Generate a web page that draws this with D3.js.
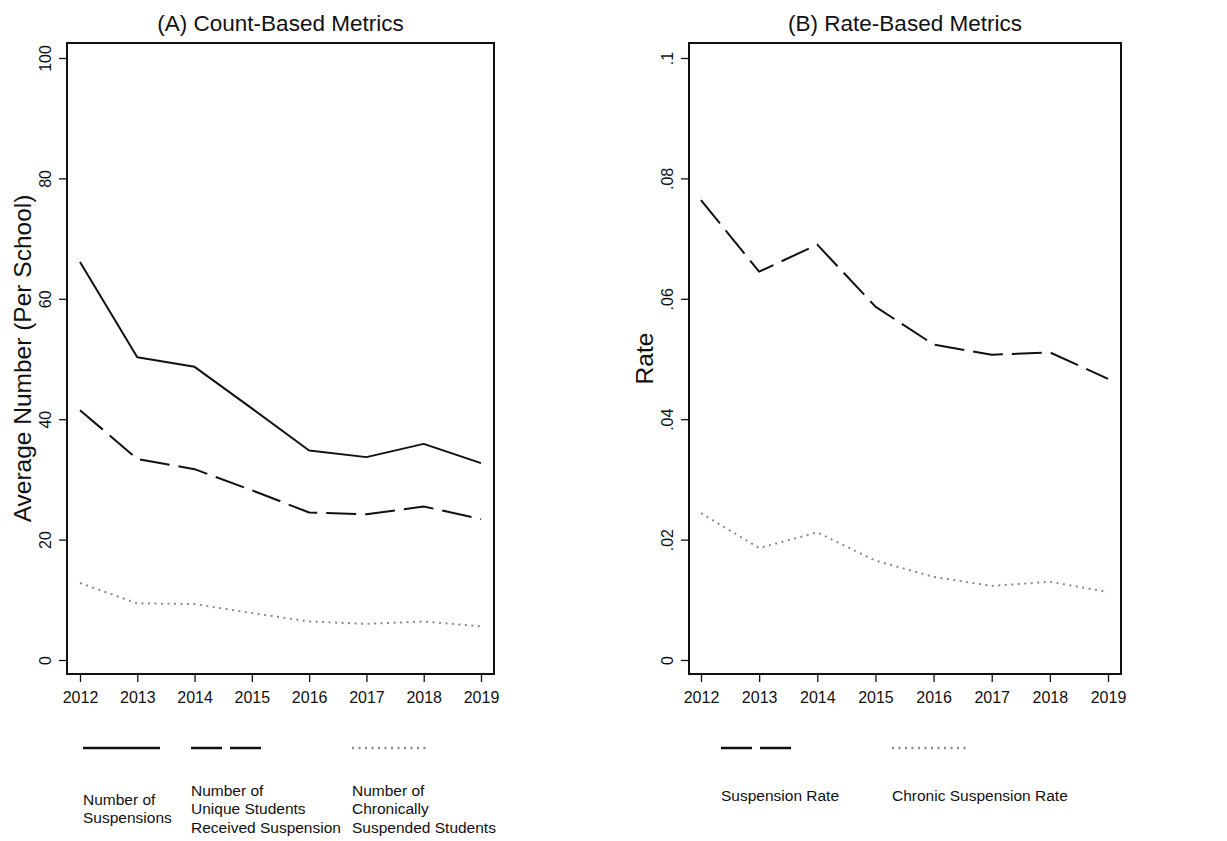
<!DOCTYPE html>
<html>
<head>
<meta charset="utf-8">
<script src="https://cdn.jsdelivr.net/npm/d3@7"></script>
<style>
  html, body { margin: 0; padding: 0; background: #fff; }
  svg { display: block; font-family: "Liberation Sans", Arial, Helvetica, sans-serif; }
</style>
</head>
<body>
<svg id="chart" width="1227" height="841"></svg>
<script>
// Years on the x axis (shared by both panels)
const years = [2012, 2013, 2014, 2015, 2016, 2017, 2018, 2019];

// Panel A: average counts per school
const suspensions       = [66.1, 50.3, 48.7, 41.8, 34.8, 33.7, 35.9, 32.7];
const uniqueStudents    = [41.5, 33.4, 31.7, 28.2, 24.5, 24.2, 25.5, 23.4];
const chronicStudents   = [12.8, 9.4, 9.3, 7.8, 6.4, 6.0, 6.4, 5.6];
const countTicks        = [0, 20, 40, 60, 80, 100];

// Panel B: rates
const suspensionRate    = [0.0764, 0.0645, 0.0690, 0.0587, 0.0524, 0.0507, 0.0511, 0.0467];
const chronicRate       = [0.0244, 0.0186, 0.0212, 0.0165, 0.0138, 0.0123, 0.0130, 0.0113];
const rateTicks         = [0, 0.02, 0.04, 0.06, 0.08, 0.1];
const rateTickLabels    = ["0", ".02", ".04", ".06", ".08", ".1"];

const svg = d3.select("#chart");

// line styles
const styles = {
  solid:  { stroke: "#111", width: 2, dash: null },
  dashed: { stroke: "#111", width: 2, dash: "30,9" },
  dotted: { stroke: "#8a8a8a", width: 2, dash: "2,4.5" }
};

function panel(opts) {
  const g = svg.append("g");
  const x = d3.scaleLinear().domain([2012, 2019]).range([opts.x0, opts.x1]);
  const y = d3.scaleLinear().domain([opts.ticks[0], opts.ticks[opts.ticks.length - 1]])
    .range([660, 58]);

  // title
  g.append("text")
    .attr("x", (opts.left + opts.right) / 2).attr("y", 31)
    .attr("text-anchor", "middle").attr("font-size", 22.5).attr("fill", "#111")
    .text(opts.title);

  // y axis
  const yAxis = d3.axisLeft(y).tickValues(opts.ticks).tickSize(8).tickSizeOuter(0)
    .tickFormat((d, i) => opts.tickLabels[i]);
  const ya = g.append("g").attr("transform", `translate(${opts.left},0)`).call(yAxis);
  ya.select(".domain").remove();
  ya.selectAll(".tick line").attr("stroke", "#111").attr("stroke-width", 1.3);
  ya.selectAll(".tick text")
    .attr("transform", "rotate(-90)")
    .attr("x", 0).attr("y", -16).attr("dy", 0)
    .attr("text-anchor", "middle")
    .attr("font-size", 16).attr("fill", "#111");

  // x axis
  const xAxis = d3.axisBottom(x).tickValues(years).tickSize(8).tickSizeOuter(0)
    .tickFormat(d3.format("d"));
  const xa = g.append("g").attr("transform", "translate(0,674)").call(xAxis);
  xa.select(".domain").remove();
  xa.selectAll(".tick line").attr("stroke", "#111").attr("stroke-width", 1.3);
  xa.selectAll(".tick text")
    .attr("y", 29).attr("dy", 0)
    .attr("font-size", 16).attr("fill", "#111");

  // y axis title
  g.append("text")
    .attr("transform", `translate(${opts.ytitleX},${(43 + 674) / 2}) rotate(-90)`)
    .attr("text-anchor", "middle").attr("font-size", 24.5).attr("fill", "#111")
    .text(opts.ytitle);

  // plot frame
  g.append("rect")
    .attr("x", opts.left).attr("y", 43)
    .attr("width", opts.right - opts.left).attr("height", 674 - 43)
    .attr("fill", "none").attr("stroke", "#111").attr("stroke-width", 2);

  // series
  const line = d3.line().x((d, i) => x(years[i])).y(d => y(d));
  opts.series.forEach(s => {
    const st = styles[s.style];
    g.append("path")
      .datum(s.values)
      .attr("d", line)
      .attr("fill", "none")
      .attr("stroke", st.stroke)
      .attr("stroke-width", st.width)
      .attr("stroke-dasharray", st.dash)
      .attr("stroke-linejoin", "round");
  });

  // legend
  opts.series.forEach(s => {
    const st = styles[s.style];
    g.append("line")
      .attr("x1", s.lx).attr("x2", s.lx + s.lw)
      .attr("y1", 748).attr("y2", 748)
      .attr("stroke", st.stroke).attr("stroke-width", st.width + 0.5)
      .attr("stroke-dasharray", s.style === "dashed" ? "31,8" : st.dash);
    const n = s.label.length;
    const lineH = 18.5;
    const startY = 815 - (n - 1) * lineH / 2;
    const t = g.append("text")
      .attr("font-size", 15.5).attr("fill", "#111");
    s.label.forEach((l, i) => {
      t.append("tspan").attr("x", s.lx).attr("y", startY + i * lineH - 1 + (n === 1 ? -13 : 0)).text(l);
    });
  });
}

panel({
  title: "(A) Count-Based Metrics",
  ytitle: "Average Number (Per School)",
  ytitleX: 31,
  left: 67, right: 494, x0: 80, x1: 481,
  ticks: countTicks,
  tickLabels: countTicks.map(String),
  series: [
    { values: suspensions, style: "solid", label: ["Number of", "Suspensions"], lx: 83, lw: 77 },
    { values: uniqueStudents, style: "dashed", label: ["Number of", "Unique Students", "Received Suspension"], lx: 191, lw: 71 },
    { values: chronicStudents, style: "dotted", label: ["Number of", "Chronically", "Suspended Students"], lx: 352, lw: 78 }
  ]
});

panel({
  title: "(B) Rate-Based Metrics",
  ytitle: "Rate",
  ytitleX: 653,
  left: 689, right: 1121, x0: 701, x1: 1108,
  ticks: rateTicks,
  tickLabels: rateTickLabels,
  series: [
    { values: suspensionRate, style: "dashed", label: ["Suspension Rate"], lx: 721, lw: 72 },
    { values: chronicRate, style: "dotted", label: ["Chronic Suspension Rate"], lx: 892, lw: 78 }
  ]
});
</script>
</body>
</html>
